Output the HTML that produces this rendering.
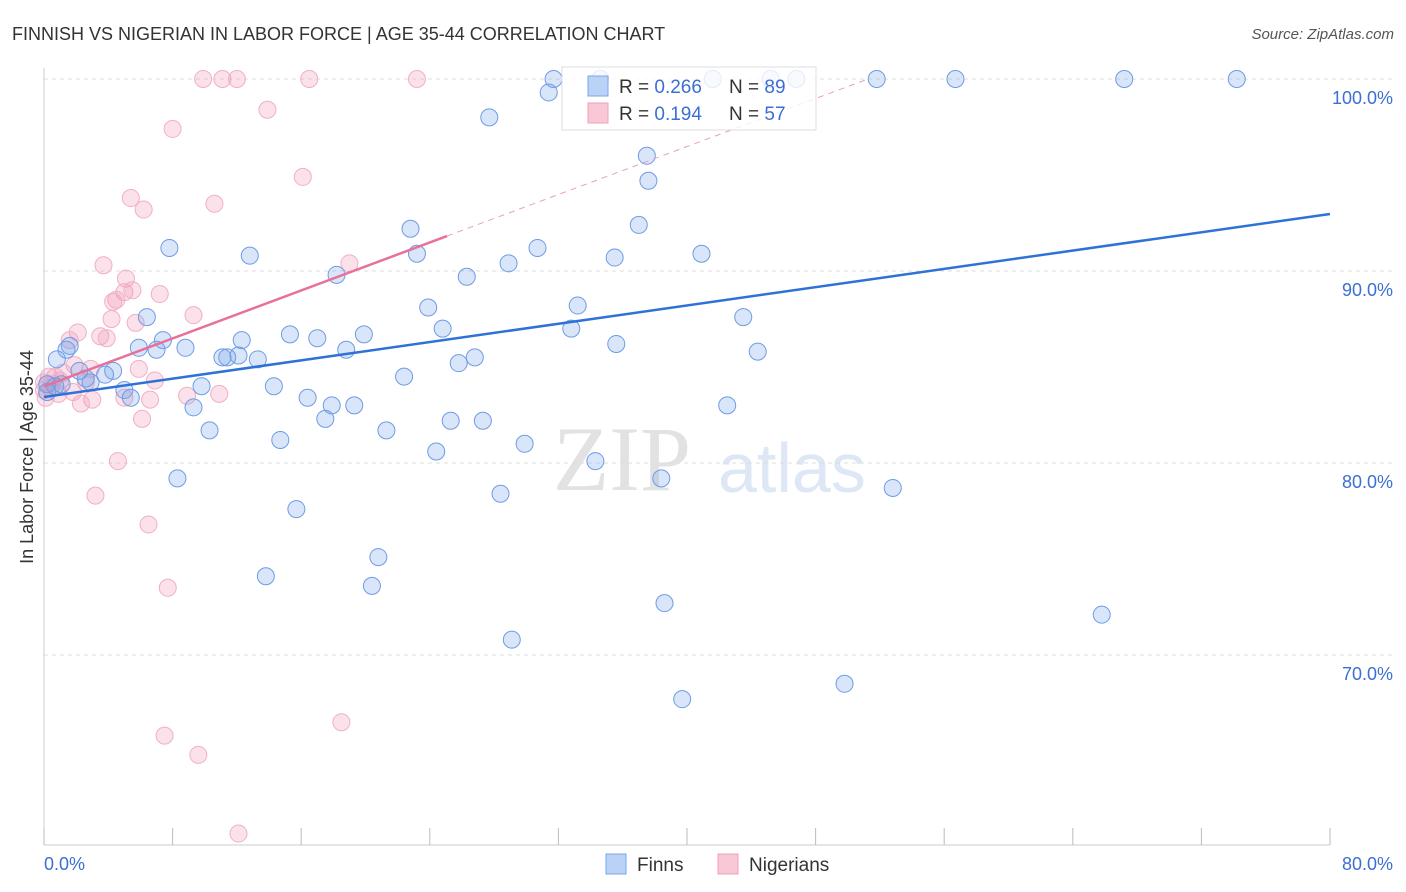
<!DOCTYPE html>
<html><head><meta charset="utf-8"><style>
body{margin:0;background:#fff;font-family:"Liberation Sans",sans-serif;}
svg{display:block}
</style></head><body>
<svg id="chart" width="1406" height="892" xmlns="http://www.w3.org/2000/svg">
<text x="12" y="40" font-size="18" fill="#333">FINNISH VS NIGERIAN IN LABOR FORCE | AGE 35-44 CORRELATION CHART</text>
<text x="1394" y="39" font-size="15" fill="#555" font-style="italic" text-anchor="end">Source: ZipAtlas.com</text>
<g>
<text x="553" y="490" font-family="Liberation Serif,serif" font-size="92" fill="#e2e2e2">ZIP</text>
<text x="718" y="492" font-size="70" fill="#dde7f5">atlas</text>
</g>
<g id="grid"></g>
<line x1="44" y1="68" x2="44" y2="845" stroke="#ccc"/>
<line x1="44" y1="845" x2="1330" y2="845" stroke="#ccc"/>
<g id="xticks"></g>
<text x="44" y="870" font-size="18" fill="#3b6fd4">0.0%</text>
<text x="1393" y="870" font-size="18" fill="#3b6fd4" text-anchor="end">80.0%</text>
<text transform="translate(33,457) rotate(-90)" font-size="18" fill="#333" text-anchor="middle">In Labor Force | Age 35-44</text>
<g id="pink"></g><g id="blue"></g><g id="trends"></g>
<g>
<rect x="562" y="67" width="254" height="63" fill="rgba(255,255,255,0.8)" stroke="#ddd"/>
<rect x="588" y="76" width="20" height="20" fill="#b9d2f5" stroke="#7aa6e6"/>
<rect x="588" y="103" width="20" height="20" fill="#f8c8d6" stroke="#eea0b8"/>
<text x="619" y="93" font-size="19" fill="#333">R = <tspan fill="#3b6fd4">0.266</tspan></text>
<text x="729" y="93" font-size="19" fill="#333">N = <tspan fill="#3b6fd4">89</tspan></text>
<text x="619" y="120" font-size="19" fill="#333">R = <tspan fill="#3b6fd4"> 0.194</tspan></text>
<text x="729" y="120" font-size="19" fill="#333">N = <tspan fill="#3b6fd4">57</tspan></text>
</g>
<g>
<rect x="606" y="854" width="20" height="20" fill="#b9d2f5" stroke="#7aa6e6"/>
<text x="637" y="871" font-size="19" fill="#333">Finns</text>
<rect x="718" y="854" width="20" height="20" fill="#f8c8d6" stroke="#eea0b8"/>
<text x="749" y="871" font-size="19" fill="#333">Nigerians</text>
</g>
</svg>
<script>
const yTicks=[100,90,80,70];
const yTickLabels=["100.0%","90.0%","80.0%","70.0%"];
const xTickVals=[0,8,16,24,32,40,48,56,64,72,80];
const finnsX=[31.7,34.6,41.6,45.2,46.8,51.8,56.7,67.2,74.2,31.4,27.7,37.5,37.6,37.0,22.8,7.8,12.8,30.7,23.2,28.9,35.5,40.9,26.3,18.2,33.2,23.9,6.4,43.5,24.8,32.8,15.3,17.0,19.9,12.3,7.4,8.8,5.9,7.0,35.6,18.8,44.4,1.6,1.4,0.8,11.1,12.1,11.4,13.3,26.8,25.8,4.3,3.8,2.9,2.6,1.1,0.7,22.4,14.3,9.8,5.0,5.4,16.4,9.3,17.9,19.3,42.5,17.5,25.3,27.3,10.3,21.3,14.7,29.9,24.4,34.3,8.3,38.4,28.4,52.8,15.7,20.8,13.8,20.4,38.6,65.8,29.1,49.8,39.7,0.2,2.2,0.2];
const finnsY=[100,100,100,100,100,100,100,100,100,99.3,98.0,96.0,94.7,92.4,92.2,91.2,90.8,91.2,90.9,90.4,90.7,90.9,89.7,89.8,88.2,88.1,87.6,87.6,87.0,87.0,86.7,86.5,86.7,86.4,86.4,86.0,86.0,85.9,86.2,85.9,85.8,86.1,85.9,85.4,85.5,85.6,85.5,85.4,85.5,85.2,84.8,84.6,84.2,84.4,84.1,84.0,84.5,84.0,84.0,83.8,83.4,83.4,82.9,83.0,83.0,83.0,82.3,82.2,82.2,81.7,81.7,81.2,81.0,80.6,80.1,79.2,79.2,78.4,78.7,77.6,75.1,74.1,73.6,72.7,72.1,70.8,68.5,67.7,83.7,84.8,84.1];
const nigX=[9.9,11.1,12.0,16.5,23.2,13.9,8.0,16.1,5.4,10.6,6.2,3.7,19.0,5.1,5.0,5.5,7.2,4.5,4.3,9.3,4.2,5.7,2.1,3.5,3.9,1.6,1.9,1.2,2.9,5.9,0.7,0.3,6.9,2.6,0.0,0.4,0.9,1.8,0.1,8.9,10.9,5.0,6.6,3.0,2.3,6.1,4.6,3.2,6.5,7.7,7.5,9.6,18.5,12.1,0,0.5,1.0];
const nigY=[100,100,100,100,100,98.4,97.4,94.9,93.8,93.5,93.2,90.3,90.4,89.6,88.9,89.0,88.8,88.5,88.4,87.7,87.5,87.3,86.8,86.6,86.5,86.4,85.1,84.7,84.9,84.9,84.5,84.5,84.3,84.2,84.2,83.9,83.6,83.7,83.4,83.5,83.6,83.4,83.3,83.3,83.1,82.3,80.1,78.3,76.8,73.5,65.8,64.8,66.5,60.7,83.8,84.1,84.3];
const finnsTrend=[83.44,92.97];
const nigTrend=[83.99,91.82,25.07];
const NS="http://www.w3.org/2000/svg";
const X=v=>44+v/80*1286;
const Y=v=>79+(100-v)*19.2;
function mk(tag,attrs,parent){const e=document.createElementNS(NS,tag);for(const k in attrs)e.setAttribute(k,attrs[k]);document.getElementById(parent).appendChild(e);return e;}
yTicks.forEach((t,i)=>{
 const l=mk('line',{x1:44,x2:1394,y1:Y(t),y2:Y(t),stroke:'#ddd','stroke-dasharray':'4,4'},'grid');
 
 
 const tx=mk('text',{x:1393,y:Y(t)+25,'font-size':18,fill:'#3b6fd4','text-anchor':'end'},'grid');
 tx.textContent=yTickLabels[i];
 
 
});
xTickVals.forEach(v=>{
 const l=mk('line',{x1:X(v),x2:X(v),y1:828,y2:845,stroke:'#bbb'},'xticks');
 
 
});
nigX.forEach((v,i)=>{
 const c=mk('circle',{cx:X(v),cy:Y(nigY[i]),r:8.5,fill:'rgba(240,150,180,0.28)',stroke:'#f2afc4','stroke-width':1},'pink');
 
 
});
finnsX.forEach((v,i)=>{
 const c=mk('circle',{cx:X(v),cy:Y(finnsY[i]),r:8.5,fill:'rgba(120,165,235,0.28)',stroke:'#6f9be6','stroke-width':1},'blue');
 
 
});
const slopeN=(nigTrend[1]-nigTrend[0])/nigTrend[2];
const xEnd=(100-nigTrend[0])/slopeN;
const d=mk('line',{x1:X(nigTrend[2]),y1:Y(nigTrend[1]),x2:X(xEnd),y2:Y(100),stroke:'#e8a0b8','stroke-width':1,'stroke-dasharray':'6,5'},'trends');


const p=mk('line',{x1:X(0),y1:Y(nigTrend[0]),x2:X(nigTrend[2]),y2:Y(nigTrend[1]),stroke:'#e8709a','stroke-width':2.5},'trends');


const b=mk('line',{x1:X(0),y1:Y(finnsTrend[0]),x2:X(80),y2:Y(finnsTrend[1]),stroke:'#2f72d6','stroke-width':2.5},'trends');


</script>
</body></html>
